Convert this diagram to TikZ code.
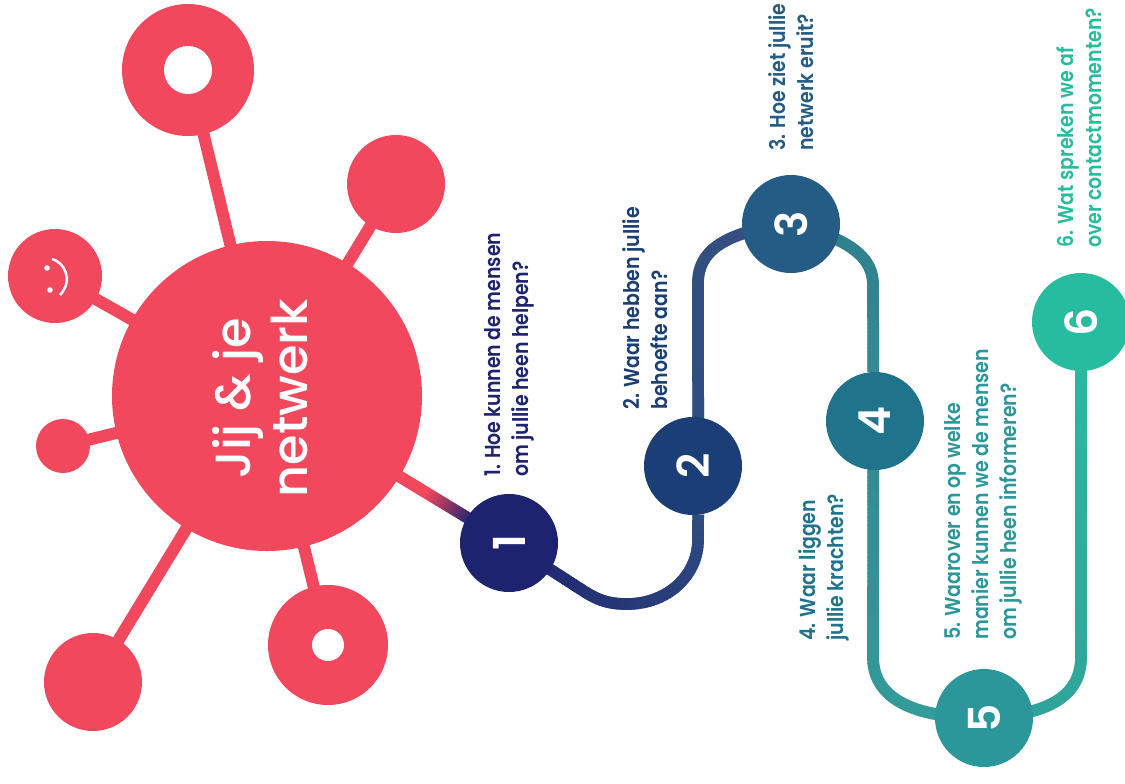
\documentclass[tikz,border=0pt]{standalone}
\usepackage{fontspec}
\setmainfont{Poppins}[BoldFont={Poppins SemiBold}]
\newfontfamily\stepfont{Poppins}[BoldFont={Poppins SemiBold},FakeStretch=0.875]
\newfontfamily\headfont{Poppins Medium}
\newfontfamily\digitfont{Poppins SemiBold}
\usetikzlibrary{backgrounds,calc,decorations.markings}
\definecolor{brand}{HTML}{F1485D}
\definecolor{cA}{HTML}{1E2370}
\definecolor{cB}{HTML}{1A3E75}
\definecolor{cC}{HTML}{255C85}
\definecolor{cD}{HTML}{1F748C}
\definecolor{cE}{HTML}{2C979A}
\definecolor{cF}{HTML}{27BC9F}
\definecolor{lA}{HTML}{2E4D80}
\definecolor{lB}{HTML}{36507F}
\definecolor{lC}{HTML}{2B7D8A}
\definecolor{lD}{HTML}{358A94}
\definecolor{lE}{HTML}{32A099}
\tikzset{
  x=0.75pt,y=-0.75pt,
  sat/.style={circle,fill=brand,inner sep=0pt,minimum size=#1*0.75pt},
  hole/.style={circle,fill=white,inner sep=0pt,minimum size=#1*0.75pt},
  stepdot/.style={circle,fill=#1,inner sep=0pt,minimum size=73.5pt,text=white,font=\digitfont\fontsize{33}{33}\selectfont},
  spoke/.style={draw=brand,line width=9pt},
  gradline/.style 2 args={decorate,decoration={markings,
    mark=between positions 0 and 1 step 1pt with {
      \pgfmathsetmacro{\gradt}{min(100,100*(\pgfkeysvalueof{/pgf/decoration/mark info/distance from start}/\pgfdecoratedpathlength))}
      \fill[fill=#2!\gradt!#1] (-0.8pt,-4.4pt) rectangle (0.8pt,4.4pt);
    }}},
  ask/.style={rotate=90,anchor=west,align=left,inner sep=0pt,font=\stepfont\bfseries\fontsize{16.2}{21}\selectfont,text=#1},
}
\begin{document}
\begin{tikzpicture}
\useasboundingbox (0,0) rectangle (1125,783);
% central hub and satellites
\node[sat=310] (hub) at (267,396) {};
\node[rotate=90,align=center,text=white,inner sep=0pt,font=\headfont\fontsize{37}{43}\selectfont] (hubtext) at (260,398) {Jij \& je\\netwerk};
\node[sat=132] (s1) at (188,70) {};
\node[hole=48] (h1) at (188,70) {};
\node[sat=98] (s2) at (396,184) {};
\node[sat=94] (s3) at (55,276) {};
\node[sat=54] (s4) at (63,446) {};
\node[sat=120] (s5) at (328,645) {};
\node[hole=32] (h5) at (328,645) {};
\node[sat=98] (s6) at (93,682) {};
% smiley
\fill[white] (47,268) circle (2.1pt) (50,290) circle (2.1pt);
\draw[white,line width=1.9pt] (52,259) .. controls (64,262) and (74,280) .. (60,295);
% steps (anchors turn with the text: an angle a lies at a+90 on the page)
\node[stepdot=cA,rotate=90] (n1) at (509,543) {1};
\node[stepdot=cB,rotate=90] (n2) at (693,466) {2};
\node[stepdot=cC,rotate=90] (n3) at (791,224) {3};
\node[stepdot=cD,rotate=90] (n4) at (875,421) {4};
\node[stepdot=cE,rotate=90] (n5) at (984,718) {5};
\node[stepdot=cF,rotate=90] (n6) at (1081,322) {6};
\coordinate (g1) at ($(hub.center)!0.66!(n1.center)$);
\coordinate (g2) at ($(hub.center)!0.85!(n1.center)$);
\begin{scope}[on background layer]
\foreach \s in {s1,s2,s3,s4,s5,s6} \draw[spoke] (hub.center) -- (\s.center);
\draw[spoke] (hub.center) -- (g1);
\path[gradline={brand}{cA}] (g1) -- (g2);
\path[gradline={cA}{lA}] (n1.center) -- (582,590) .. controls (600,602) and (612,604) .. (627,604) .. controls (668,604) and (698,575) .. (698,540) -- (n2.-174);
\path[gradline={lA}{lB}] (n2.-6) -- (698,283) .. controls (698,255) and (718,232) .. (n3.center);
\path[gradline={lC}{lD}] (n3.center) .. controls (855,240) and (873,260) .. (873,285) -- (n4.2);
\path[gradline={lD}{lE}] (n4.178) -- (873,657) .. controls (873,692) and (902,718) .. (n5.center);
\path[gradline={lE}{cF}] (n5.center) .. controls (1050,715) and (1081,695) .. (1081,657) -- (n6.center);
\end{scope}
% questions
\node[ask=cA] (q1) at (509,477) {1. Hoe kunnen de mensen\\om jullie heen helpen?};
\node[ask=cB] (q2) at (645,410) {2. Waar hebben jullie\\behoefte aan?};
\node[ask=cC] (q3) at (791,151) {3. Hoe ziet jullie\\netwerk eruit?};
\node[ask=cD] (q4) at (824,641) {4. Waar liggen\\jullie krachten?};
\node[ask=cE] (q5) at (983,640) {5. Waarover en op welke\\manier kunnen we de mensen\\om jullie heen informeren?};
\node[ask=cF] (q6) at (1079,248) {6. Wat spreken we af\\over contactmomenten?};
\end{tikzpicture}
\end{document}
